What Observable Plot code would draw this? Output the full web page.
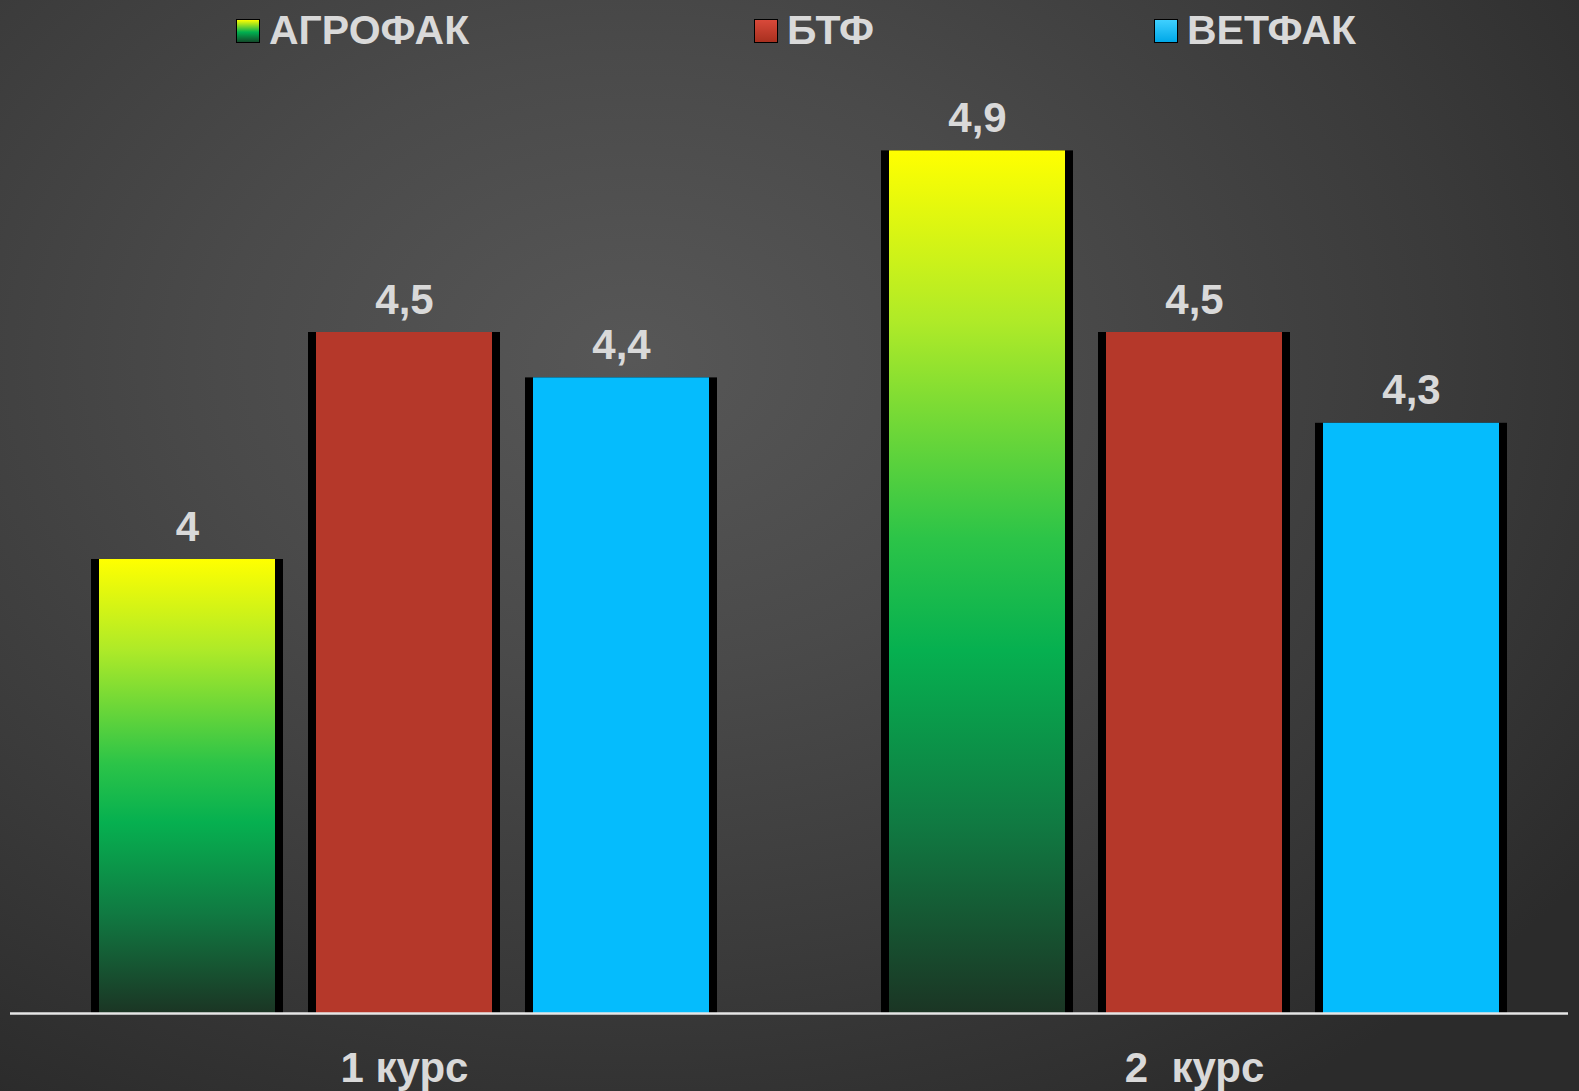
<!DOCTYPE html>
<html>
<head>
<meta charset="utf-8">
<script src="https://cdn.jsdelivr.net/npm/d3@7"></script>
<script src="https://cdn.jsdelivr.net/npm/@observablehq/plot@0.6"></script>
<style>
  html, body { margin: 0; padding: 0; }
  #wrap {
    width: 1579px; height: 1091px; position: relative; overflow: hidden;
    background: radial-gradient(ellipse 75% 80% at 40% 33%, #575757 0%, #4a4a4a 35%, #3a3a3a 70%, #2b2b2b 100%);
    font-family: "Liberation Sans", Arial, sans-serif;
  }
  #legend { position: relative; width: 1579px; height: 62px; }
  .item { position: absolute; top: 10px; height: 40px; line-height: 40px; font-size: 41px; font-weight: bold; color: #d9d9d9; white-space: nowrap; }
  .mk { position: absolute; top: 19px; width: 22px; height: 22px; border: 1px solid #000; }
  #chart svg text { white-space: pre; }
</style>
</head>
<body>
<div id="wrap">
  <div id="legend"></div>
  <div id="chart"></div>
</div>
<script>
// ---- data ----
const courses = ["1 курс", "2  курс"];
const faculties = ["АГРОФАК", "БТФ", "ВЕТФАК"];
const agrofak = [4, 4.9];
const btf = [4.5, 4.5];
const vetfak = [4.4, 4.3];
const colors = ["url(#agroGrad)", "#b5382a", "#05bcfd"];
const legendSwatches = ["linear-gradient(#ffff00, #00b050 55%, #124a2a)", "linear-gradient(#d9493a, #a8301f)", "linear-gradient(#3fd0ff, #00a8e8)"];

const seriesValues = [agrofak, btf, vetfak];
const rows = [];
courses.forEach((c, i) => faculties.forEach((f, j) => rows.push({course: c, faculty: f, value: seriesValues[j][i]})));

// ---- legend ----
const legendX = [236, 754, 1154];
const legend = document.getElementById("legend");
faculties.forEach((f, j) => {
  const mk = document.createElement("div");
  mk.className = "mk";
  mk.style.left = legendX[j] + "px";
  mk.style.background = legendSwatches[j];
  legend.appendChild(mk);
  const t = document.createElement("div");
  t.className = "item";
  t.style.left = (legendX[j] + 33) + "px";
  t.textContent = f;
  legend.appendChild(t);
});

// ---- chart ----
const fmt = v => String(v).replace(".", ",");
const chart = Plot.plot({
  width: 1579,
  height: 1029,
  marginLeft: 9,
  marginRight: -10,
  marginTop: 43,
  marginBottom: 78,
  style: {background: "transparent", fontFamily: "'Liberation Sans', Arial, sans-serif", overflow: "visible"},
  fx: {domain: courses, padding: 0, axis: null},
  x: {domain: faculties, paddingInner: 0.19, paddingOuter: 0.41, axis: null},
  y: {domain: [3, 5], axis: null},
  color: {domain: faculties, range: colors},
  marks: [
    // shadow
    Plot.barY(rows, {fx: "course", x: "faculty", y1: 3, y2: "value", fill: "#000", insetLeft: -8, insetRight: -8}),
    // bars
    Plot.barY(rows, {fx: "course", x: "faculty", y1: 3, y2: "value", fill: "faculty"}),
    // subtle top highlight
    Plot.barY(rows, {fx: "course", x: "faculty", y1: "value", y2: "value", stroke: "#ffffff", strokeOpacity: 0.35, strokeWidth: 2, insetLeft: 1, insetRight: 1, dy: 2}),
    // baseline
    Plot.ruleY([{course: courses[0]}], {fx: "course", y: () => 3, stroke: "#e6e6e6", strokeWidth: 2.5, insetLeft: 1}),
    Plot.ruleY([{course: courses[1]}], {fx: "course", y: () => 3, stroke: "#e6e6e6", strokeWidth: 2.5, insetRight: 21}),
    // value labels
    Plot.text(rows, {fx: "course", x: "faculty", y: "value", text: d => fmt(d.value), lineAnchor: "bottom", dy: -19,
      fill: "#d9d9d9", fontSize: 42, fontWeight: "bold"}),
    // course labels
    Plot.text(courses.map(c => ({course: c})), {fx: "course", text: "course", frameAnchor: "bottom", lineAnchor: "bottom", dy: 68,
      fill: "#d9d9d9", fontSize: 42, fontWeight: "bold"})
  ]
});

// gradient defs
const ns = "http://www.w3.org/2000/svg";
const defs = document.createElementNS(ns, "defs");
defs.innerHTML = `<linearGradient id="agroGrad" x1="0" y1="0" x2="0" y2="1">
  <stop offset="0" stop-color="#ffff00"/>
  <stop offset="0.2" stop-color="#aeea28"/>
  <stop offset="0.45" stop-color="#2cc448"/>
  <stop offset="0.58" stop-color="#06b050"/>
  <stop offset="0.78" stop-color="#107a42"/>
  <stop offset="1" stop-color="#1b3524"/>
</linearGradient>`;
chart.insertBefore(defs, chart.firstChild);
document.getElementById("chart").appendChild(chart);
</script>
</body>
</html>
